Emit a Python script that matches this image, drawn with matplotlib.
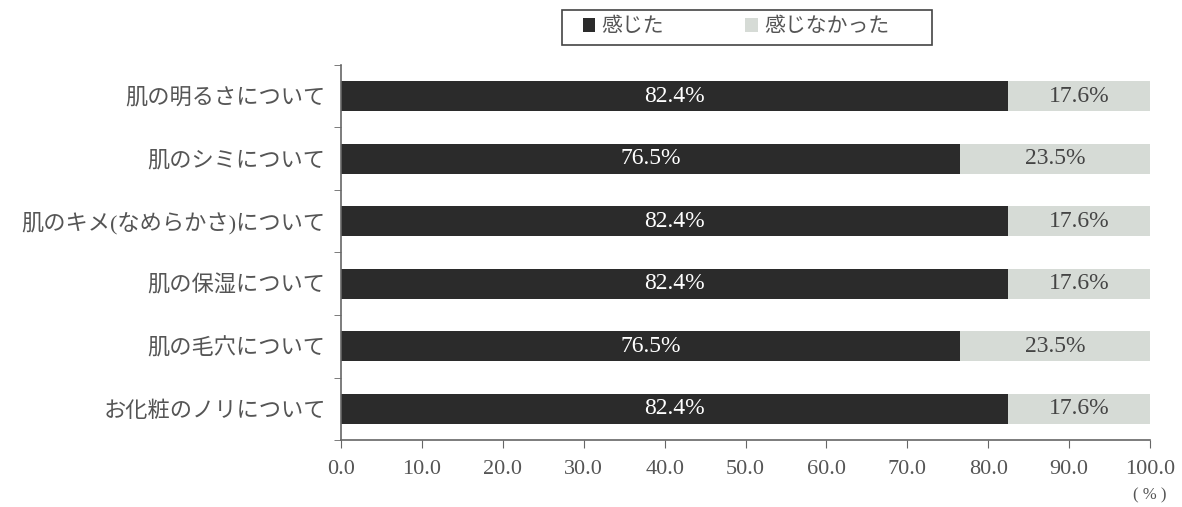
import numpy as np
import matplotlib.pyplot as plt
from matplotlib.patches import Rectangle

plt.rcParams['font.family'] = ['Liberation Serif', 'Noto Sans CJK JP', 'DejaVu Sans']

categories = ['肌の明るさについて', '肌のシミについて', '肌のキメ(なめらかさ)について',
              '肌の保湿について', '肌の毛穴について', 'お化粧のノリについて']
felt = [82.4, 76.5, 82.4, 82.4, 76.5, 82.4]
not_felt = [17.6, 23.5, 17.6, 17.6, 23.5, 17.6]
series_names = ['感じた', '感じなかった']
xticks = np.arange(0, 101, 10)

dark = '#2b2b2b'
light = '#d6dbd6'
txt = '#555555'

fig = plt.figure(figsize=(11.82, 5.07), dpi=100)
ax = fig.add_axes([0.2885, 0.132, 0.6845, 0.740])

y = np.arange(len(categories))
h = 0.48
b1 = ax.barh(y, felt, height=h, color=dark, label=series_names[0])
b2 = ax.barh(y, not_felt, left=felt, height=h, color=light, label=series_names[1])

for i in range(len(categories)):
    ax.text(felt[i] / 2, y[i], f'{felt[i]:.1f}%', ha='center', va='center',
            color='white', fontsize=17)
    ax.text(felt[i] + not_felt[i] / 2, y[i], f'{not_felt[i]:.1f}%', ha='center',
            va='center', color='#444444', fontsize=17)

ax.set_xlim(0, 100)
ax.set_ylim(len(categories) - 0.5, -0.5)
ax.set_xticks(xticks)
ax.set_xticklabels([f'{v:.1f}' for v in xticks], fontsize=16, color=txt)
ax.set_yticks(y)
ax.set_yticklabels(categories, fontsize=16, color=txt)
ax.tick_params(axis='y', length=0, pad=11)
ax.set_yticks(np.arange(-0.5, len(categories)), minor=True)
ax.tick_params(axis='y', which='minor', length=5, color='#666666', direction='out')
ax.tick_params(axis='x', length=6, color='#666666', direction='out', pad=8)

for s in ['top', 'right']:
    ax.spines[s].set_visible(False)
for s in ['left', 'bottom']:
    ax.spines[s].set_color('#666666')
    ax.spines[s].set_linewidth(1.2)

ax.text(100, -0.125, '( % )', transform=ax.get_xaxis_transform(), ha='center',
        va='top', fontsize=12, color=txt)

# legend without frame, box drawn separately so the padding matches
leg = fig.legend(handles=[b1, b2], loc='center left',
                 bbox_to_anchor=(0.493, 0.945), borderaxespad=0, borderpad=0,
                 ncol=2, fontsize=15, frameon=False,
                 handlelength=0.6, handleheight=0.6, columnspacing=3.9,
                 handletextpad=0.3)
for t in leg.get_texts():
    t.set_color(txt)
fig.patches.append(Rectangle((562 / 1182, 1 - 45 / 507), 370 / 1182, 35 / 507,
                             transform=fig.transFigure, fill=False,
                             edgecolor='#444444', linewidth=1.2))

fig.savefig('out.png', dpi=100)
